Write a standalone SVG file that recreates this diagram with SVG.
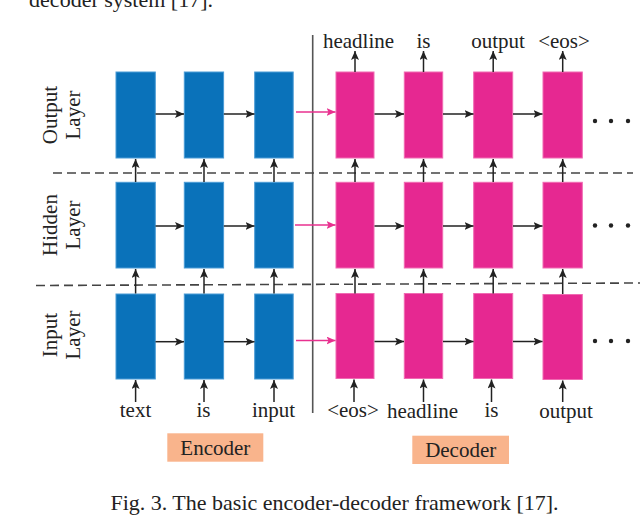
<svg xmlns="http://www.w3.org/2000/svg" width="640" height="515" viewBox="0 0 640 515">
<defs>
<marker id="ah" markerUnits="userSpaceOnUse" markerWidth="10" markerHeight="8" refX="9" refY="4" orient="auto">
<path d="M0,0 L9,4 L0,8 L2,4 Z" fill="#222"/>
</marker>
<marker id="ahp" markerUnits="userSpaceOnUse" markerWidth="10" markerHeight="8" refX="9" refY="4" orient="auto">
<path d="M0,0 L9,4 L0,8 L2,4 Z" fill="#E8318F"/>
</marker>
</defs>
<style>
text{font-family:"Liberation Serif","Times New Roman",serif;fill:#222;}
.lbl{font-size:21px;text-anchor:middle;}
.cap{font-size:22px;}
.enc{fill:#0A72BA;stroke:#4A9BD6;stroke-width:1;}
.dec{fill:#E62891;stroke:#F06AB2;stroke-width:1;}
.ar{stroke:#222;stroke-width:1.5;fill:none;marker-end:url(#ah);}
.pk{stroke:#E8318F;stroke-width:1.5;fill:none;marker-end:url(#ahp);}
.dash{stroke:#444;stroke-width:1.6;stroke-dasharray:9,5;fill:none;}
.tag{fill:#F9B48C;}
.dot{fill:#222;}
</style>
<text class="cap" x="213" y="7" text-anchor="end">decoder system [17].</text>

<g id="separators">
<line x1="312.7" y1="35" x2="312.7" y2="413" stroke="#555" stroke-width="1.6"/>
<line class="dash" x1="53" y1="173" x2="633" y2="173"/>
<line class="dash" x1="36" y1="285.5" x2="640" y2="283"/>
</g>

<g id="layer-labels">
<text class="lbl" transform="translate(57,115) rotate(-90)">Output<tspan x="0" dy="23">Layer</tspan></text>
<text class="lbl" transform="translate(57,225) rotate(-90)">Hidden<tspan x="0" dy="23">Layer</tspan></text>
<text class="lbl" transform="translate(57,335) rotate(-90)">Input<tspan x="0" dy="23">Layer</tspan></text>
</g>

<g id="encoder-nodes">
<rect id="e11" class="enc" x="116" y="72" width="39.3" height="86"/>
<rect id="e12" class="enc" x="184.3" y="72" width="39.3" height="86"/>
<rect id="e13" class="enc" x="254.7" y="72" width="38.5" height="86"/>
<rect id="e21" class="enc" x="116" y="182.3" width="39.3" height="85.7"/>
<rect id="e22" class="enc" x="184.3" y="182.3" width="39.3" height="85.7"/>
<rect id="e23" class="enc" x="254.7" y="182.3" width="38.5" height="85.7"/>
<rect id="e31" class="enc" x="116" y="294" width="39.3" height="85"/>
<rect id="e32" class="enc" x="184.3" y="294" width="39.3" height="85"/>
<rect id="e33" class="enc" x="254.7" y="294" width="38.5" height="85"/>
</g>

<g id="decoder-nodes">
<rect id="d11" class="dec" x="336" y="72" width="38" height="86"/>
<rect id="d12" class="dec" x="404.3" y="72" width="38.4" height="86"/>
<rect id="d13" class="dec" x="473.7" y="72" width="39" height="86"/>
<rect id="d14" class="dec" x="543" y="72" width="39.3" height="86"/>
<rect id="d21" class="dec" x="336" y="182.3" width="38" height="85.7"/>
<rect id="d22" class="dec" x="404.3" y="182.3" width="38.4" height="85.7"/>
<rect id="d23" class="dec" x="473.7" y="182.3" width="39" height="85.7"/>
<rect id="d24" class="dec" x="543" y="182.3" width="39.3" height="85.7"/>
<rect id="d31" class="dec" x="336" y="293.5" width="38" height="85"/>
<rect id="d32" class="dec" x="404.3" y="293.5" width="38.4" height="85"/>
<rect id="d33" class="dec" x="473.7" y="293.5" width="39" height="85"/>
<rect id="d34" class="dec" x="543" y="294.5" width="39.3" height="85"/>
</g>

<g id="ellipses">
<circle class="dot" cx="595" cy="121" r="2.2"/><circle class="dot" cx="611" cy="121" r="2.2"/><circle class="dot" cx="628" cy="121" r="2.2"/>
<circle class="dot" cx="595" cy="225.5" r="2.2"/><circle class="dot" cx="611" cy="225.5" r="2.2"/><circle class="dot" cx="628" cy="225.5" r="2.2"/>
<circle class="dot" cx="595" cy="341" r="2.2"/><circle class="dot" cx="611" cy="341" r="2.2"/><circle class="dot" cx="628" cy="341" r="2.2"/>
</g>

<g id="connectors">
<line class="ar" x1="155.5" y1="114" x2="184" y2="114"/>
<line class="ar" x1="223.8" y1="114" x2="254.5" y2="114"/>
<line class="ar" x1="155.5" y1="226" x2="184" y2="226"/>
<line class="ar" x1="223.8" y1="226" x2="254.5" y2="226"/>
<line class="ar" x1="155.5" y1="341.7" x2="184" y2="341.7"/>
<line class="ar" x1="223.8" y1="341.7" x2="254.5" y2="341.7"/>
<line class="pk" x1="296" y1="112" x2="335.5" y2="112"/>
<line class="pk" x1="295" y1="225" x2="335.5" y2="225"/>
<line class="pk" x1="296" y1="340.5" x2="335.5" y2="340.5"/>
<line class="ar" x1="374.5" y1="114" x2="404" y2="114"/>
<line class="ar" x1="443" y1="114" x2="473.5" y2="114"/>
<line class="ar" x1="513" y1="114" x2="542.5" y2="114"/>
<line class="ar" x1="374.5" y1="226" x2="404" y2="226"/>
<line class="ar" x1="443" y1="226" x2="473.5" y2="226"/>
<line class="ar" x1="513" y1="226" x2="542.5" y2="226"/>
<line class="ar" x1="374.5" y1="341.5" x2="404" y2="341.5"/>
<line class="ar" x1="443" y1="341.5" x2="473.5" y2="341.5"/>
<line class="ar" x1="513" y1="341.5" x2="542.5" y2="341.5"/>
<line class="ar" x1="135.6" y1="182" x2="135.6" y2="159"/>
<line class="ar" x1="204" y1="182" x2="204" y2="159"/>
<line class="ar" x1="274" y1="182" x2="274" y2="159"/>
<line class="ar" x1="355" y1="182" x2="355" y2="159"/>
<line class="ar" x1="423.5" y1="182" x2="423.5" y2="159"/>
<line class="ar" x1="493.2" y1="182" x2="493.2" y2="159"/>
<line class="ar" x1="562.7" y1="182" x2="562.7" y2="159"/>
<line class="ar" x1="135.6" y1="293.5" x2="135.6" y2="269"/>
<line class="ar" x1="204" y1="293.5" x2="204" y2="269"/>
<line class="ar" x1="274" y1="293.5" x2="274" y2="269"/>
<line class="ar" x1="355" y1="293.5" x2="355" y2="269"/>
<line class="ar" x1="423.5" y1="293.5" x2="423.5" y2="269"/>
<line class="ar" x1="493.2" y1="293.5" x2="493.2" y2="269"/>
<line class="ar" x1="562.7" y1="294" x2="562.7" y2="269"/>
<line class="ar" x1="355" y1="72" x2="355" y2="51"/>
<line class="ar" x1="423.5" y1="72" x2="423.5" y2="51"/>
<line class="ar" x1="493.2" y1="72" x2="493.2" y2="51"/>
<line class="ar" x1="562.7" y1="72" x2="562.7" y2="51"/>
<line class="ar" x1="135.6" y1="402" x2="135.6" y2="380"/>
<line class="ar" x1="204" y1="402" x2="204" y2="380"/>
<line class="ar" x1="274" y1="402" x2="274" y2="380"/>
<line class="ar" x1="354" y1="402" x2="354" y2="379.5"/>
<line class="ar" x1="423.5" y1="402" x2="423.5" y2="379.5"/>
<line class="ar" x1="491.5" y1="402" x2="491.5" y2="379.5"/>
<line class="ar" x1="562.7" y1="402" x2="562.7" y2="380.5"/>
</g>

<g id="output-words">
<text class="lbl" x="358.5" y="48">headline</text>
<text class="lbl" x="423.5" y="48">is</text>
<text class="lbl" x="498" y="48">output</text>
<text class="lbl" x="564" y="48">&lt;eos&gt;</text>
</g>

<g id="input-words">
<text class="lbl" x="135.5" y="417">text</text>
<text class="lbl" x="203.5" y="417">is</text>
<text class="lbl" x="273.5" y="417">input</text>
<text class="lbl" x="353" y="417">&lt;eos&gt;</text>
<text class="lbl" x="422.5" y="418">headline</text>
<text class="lbl" x="491.5" y="417">is</text>
<text class="lbl" x="566" y="418">output</text>
</g>

<g id="encoder-tag">
<rect class="tag" x="167.3" y="433.3" width="96" height="28.4"/>
<text class="lbl" x="215.3" y="455">Encoder</text>
</g>
<g id="decoder-tag">
<rect class="tag" x="412.3" y="435.7" width="96.7" height="28.3"/>
<text class="lbl" x="460.7" y="457">Decoder</text>
</g>

<text class="cap" x="334.5" y="510" text-anchor="middle">Fig. 3. The basic encoder-decoder framework [17].</text>
</svg>
